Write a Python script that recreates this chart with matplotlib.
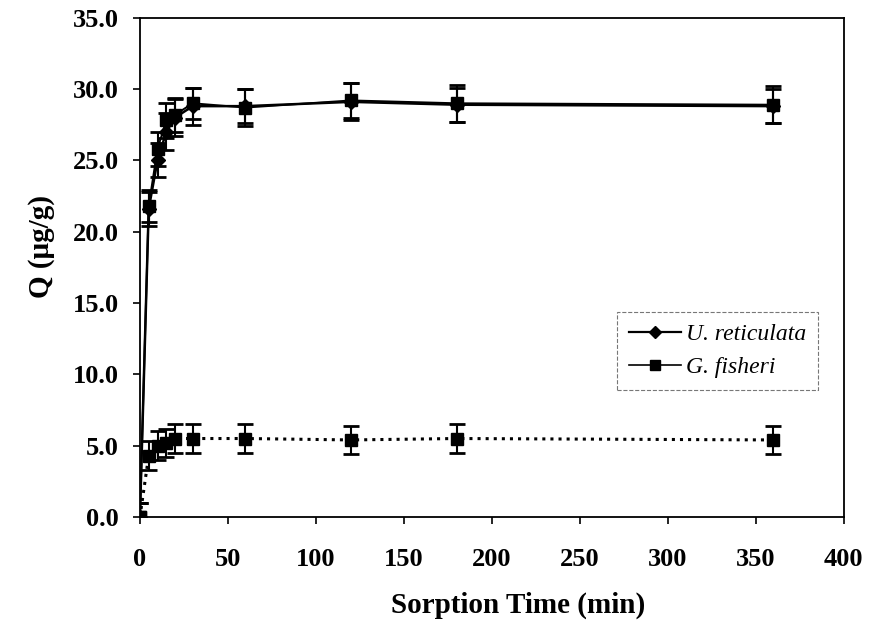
import numpy as np
import matplotlib
matplotlib.use("Agg")
import matplotlib.pyplot as plt
from matplotlib.lines import Line2D

# sorption time (min)
t = [0, 5, 10, 15, 20, 30, 60, 120, 180, 360]

# U. reticulata
q_ur = [0.0, 21.6, 25.0, 27.0, 28.0, 28.8, 28.8, 29.1, 28.9, 28.8]
err_ur = [1.0, 1.2, 1.2, 1.3, 1.3, 1.3, 1.2, 1.3, 1.2, 1.2]

# G. fisheri
q_gf = [0.0, 21.8, 25.8, 27.8, 28.2, 29.0, 28.7, 29.2, 29.0, 28.9]
err_gf = [1.0, 1.1, 1.2, 1.2, 1.2, 1.1, 1.3, 1.2, 1.3, 1.3]

# low series (dotted)
q_lo = [0.0, 4.3, 5.0, 5.2, 5.5, 5.5, 5.5, 5.4, 5.5, 5.4]
err_lo = [1.0, 1.0, 1.0, 1.0, 1.0, 1.0, 1.0, 1.0, 1.0, 1.0]

plt.rcParams['font.family'] = ['Liberation Serif', 'DejaVu Serif']

fig = plt.figure(figsize=(8.69, 6.32), dpi=100)
ax = fig.add_axes([0.161, 0.182, 0.81, 0.79])

ax.errorbar(t, q_ur, yerr=err_ur, color='black', marker='D', markersize=7,
            lw=1.8, capsize=5.5, capthick=2, elinewidth=1.5)
ax.errorbar(t, q_gf, yerr=err_gf, color='black', marker='s', markersize=8,
            lw=1.4, capsize=5.5, capthick=2, elinewidth=1.5)
ax.errorbar(t, q_lo, yerr=err_lo, color='black', marker='s', markersize=8,
            ls=':', lw=2.2, capsize=5.5, capthick=2, elinewidth=1.5)

ax.set_xlim(0, 400)
ax.set_ylim(0, 35)
ax.set_xticks(np.arange(0, 401, 50))
ax.set_yticks(np.arange(0, 36, 5))
ax.yaxis.set_major_formatter(matplotlib.ticker.FormatStrFormatter('%.1f'))
ax.tick_params(direction='out', length=5, width=1.2, labelsize=19)
ax.tick_params(axis='x', pad=17)
ax.tick_params(axis='y', pad=10)
for lab in ax.get_xticklabels() + ax.get_yticklabels():
    lab.set_fontweight('bold')
for s in ax.spines.values():
    s.set_linewidth(1.3)

ax.set_xlabel('Sorption Time (min)', fontsize=21, fontweight='bold')
ax.set_ylabel('Q (\u03bcg/g)', fontsize=21, fontweight='bold')
ax.xaxis.set_label_coords(0.537, -0.15)
ax.yaxis.set_label_coords(-0.12, 0.541)

handles = [Line2D([], [], color='black', marker='D', markersize=6, lw=1.6),
           Line2D([], [], color='black', marker='s', markersize=7, lw=1.2)]
leg = ax.legend(handles, ['U. reticulata', 'G. fisheri'], loc='upper left',
                bbox_to_anchor=(0.678, 0.411), borderaxespad=0,
                prop={'style': 'italic', 'size': 17},
                frameon=True, fancybox=False, edgecolor='#555555',
                handlelength=2.2, handletextpad=0.2, borderpad=0.5, labelspacing=0.5)
leg.get_frame().set_linestyle('--')
leg.get_frame().set_linewidth(0.8)

fig.savefig('out.png', dpi=100)
